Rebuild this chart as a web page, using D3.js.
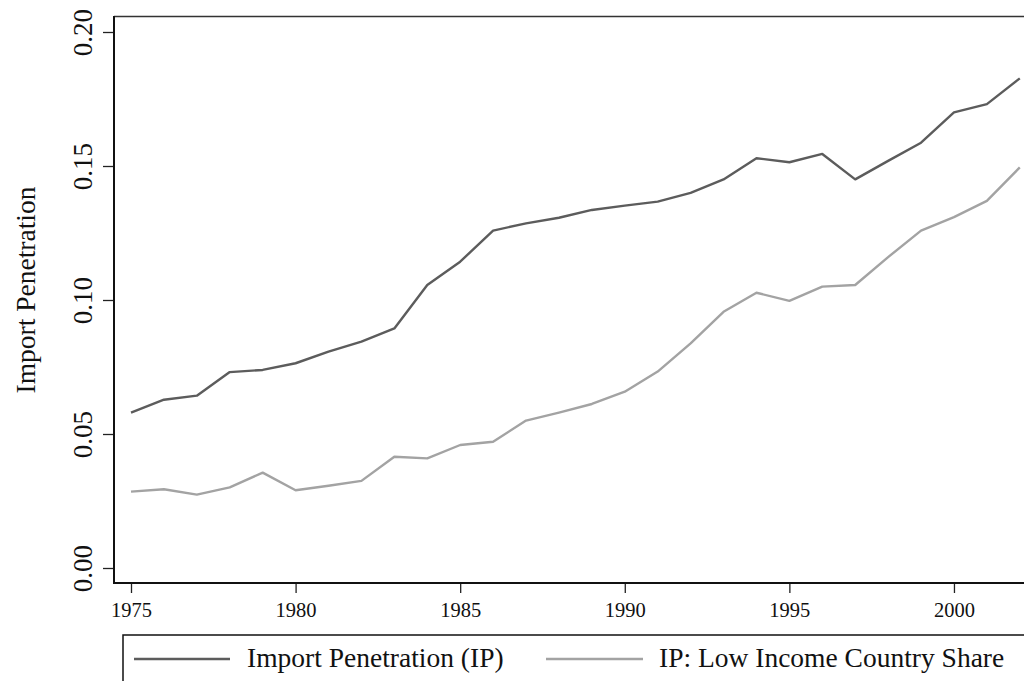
<!DOCTYPE html>
<html>
<head>
<meta charset="utf-8">
<script src="https://cdn.jsdelivr.net/npm/d3@7"></script>
<style>
  body { margin: 0; background: #fff; }
  svg { display: block; font-family: "Liberation Serif", "Times New Roman", serif; }
</style>
</head>
<body>
<div id="chart"></div>
<script>
// data
var years = d3.range(1975, 2003);
var importPen = [0.058, 0.0628, 0.0643, 0.0731, 0.0739, 0.0764, 0.0807, 0.0845, 0.0894, 0.1056,
                 0.1143, 0.1259, 0.1286, 0.1307, 0.1336, 0.1352, 0.1367, 0.140, 0.145, 0.1529,
                 0.1514, 0.1545, 0.145, 0.1519, 0.1587, 0.170, 0.1731, 0.1827];
var lowIncShare = [0.0285, 0.0294, 0.0274, 0.0301, 0.0356, 0.029, 0.0307, 0.0325, 0.0415, 0.0409,
                   0.0459, 0.0471, 0.055, 0.058, 0.0612, 0.0658, 0.0733, 0.0838, 0.0956, 0.1027,
                   0.0997, 0.105, 0.1056, 0.116, 0.1259, 0.1309, 0.137, 0.1495];
var xTicks = [1975, 1980, 1985, 1990, 1995, 2000];
var yTicks = [0, 0.05, 0.10, 0.15, 0.20];
var seriesNames = ["Import Penetration (IP)", "IP: Low Income Country Share"];
var seriesColors = ["#5c5c5c", "#a3a3a3"];

var serif = '"Liberation Serif", "Times New Roman", serif';
var width = 1024, height = 681;
var svg = d3.select("#chart").append("svg")
    .attr("width", width).attr("height", height);

var x = d3.scaleLinear().domain([1975, 2002]).range([131, 1019.8]);
var y = d3.scaleLinear().domain([0, 0.2]).range([568, 32]);

var plotLeft = 114, plotTop = 16.5, plotBottom = 583;

// plot region border (top edge, runs off the right side)
svg.append("line")
    .attr("x1", plotLeft).attr("x2", width + 5)
    .attr("y1", plotTop).attr("y2", plotTop)
    .attr("stroke", "#333").attr("stroke-width", 1.3);

// lines
var line = d3.line()
    .x(function(d, i) { return x(years[i]); })
    .y(function(d) { return y(d); });

[importPen, lowIncShare].forEach(function(s, k) {
  svg.append("path")
      .datum(s)
      .attr("d", line)
      .attr("fill", "none")
      .attr("stroke", seriesColors[k])
      .attr("stroke-width", 2.4)
      .attr("stroke-linejoin", "round");
});

// y axis
var yAxis = svg.append("g")
    .attr("transform", "translate(" + plotLeft + ",0)")
    .call(d3.axisLeft(y).tickValues(yTicks).tickSize(11).tickFormat(d3.format(".2f")))
    .attr("font-family", serif);
yAxis.select(".domain").remove();
yAxis.selectAll(".tick line").attr("stroke", "#222").attr("stroke-width", 1.3);
yAxis.selectAll(".tick text")
    .attr("x", null).attr("dy", null)
    .attr("transform", "translate(-22,0) rotate(-90)")
    .attr("text-anchor", "middle")
    .attr("fill", "#111")
    .style("font-size", "27px");

// x axis
var xAxis = svg.append("g")
    .attr("transform", "translate(0," + plotBottom + ")")
    .call(d3.axisBottom(x).tickValues(xTicks).tickSize(10).tickFormat(d3.format("d")))
    .attr("font-family", serif);
xAxis.select(".domain").remove();
xAxis.selectAll(".tick line").attr("stroke", "#222").attr("stroke-width", 1.3);
xAxis.selectAll(".tick text")
    .attr("y", 34).attr("dy", null)
    .attr("fill", "#111")
    .style("font-size", "20.5px");

// spines
svg.append("line")
    .attr("x1", plotLeft).attr("x2", plotLeft)
    .attr("y1", plotTop - 0.6).attr("y2", plotBottom + 1)
    .attr("stroke", "#111").attr("stroke-width", 2);
svg.append("line")
    .attr("x1", plotLeft - 1).attr("x2", width + 5)
    .attr("y1", plotBottom).attr("y2", plotBottom)
    .attr("stroke", "#111").attr("stroke-width", 2);

// y title
svg.append("text")
    .attr("transform", "translate(35,290) rotate(-90)")
    .attr("text-anchor", "middle")
    .attr("fill", "#111")
    .style("font-size", "27.5px")
    .text("Import Penetration");

// legend
var lg = svg.append("g");
lg.append("rect")
    .attr("x", 123).attr("y", 635)
    .attr("width", 960).attr("height", 80)
    .attr("fill", "none").attr("stroke", "#111").attr("stroke-width", 1.5);
var legX = [[134, 230, 247], [546, 643, 659]];
seriesNames.forEach(function(n, k) {
  lg.append("line")
      .attr("x1", legX[k][0]).attr("x2", legX[k][1])
      .attr("y1", 659).attr("y2", 659)
      .attr("stroke", seriesColors[k]).attr("stroke-width", 2.4);
  lg.append("text")
      .attr("x", legX[k][2]).attr("y", 667)
      .attr("fill", "#111")
      .style("font-size", "27.5px")
      .text(n);
});
</script>
</body>
</html>
